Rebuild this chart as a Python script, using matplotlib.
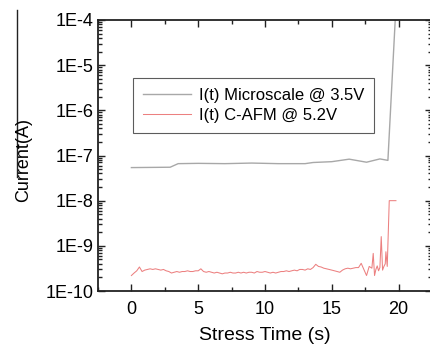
import matplotlib
matplotlib.use("Agg")
import matplotlib.pyplot as plt
from matplotlib.ticker import FixedLocator, LogLocator, NullFormatter
from matplotlib.lines import Line2D

plt.rcParams['font.family'] = ['Liberation Sans', 'DejaVu Sans']

# Gray series: I(t) Microscale @ 3.5V
micro_t = [0.0, 2.9, 3.5, 5.0, 7.0, 9.0, 11.0, 13.0, 13.6, 15.0, 16.3, 17.6, 18.6, 19.2, 19.8]
micro_i = [5.4e-8, 5.5e-8, 6.6e-8, 6.7e-8, 6.6e-8, 6.8e-8, 6.6e-8, 6.6e-8, 7.0e-8, 7.3e-8,
           8.3e-8, 7.1e-8, 8.4e-8, 7.8e-8, 2e-4]

# Red series: I(t) C-AFM @ 5.2V
cafm_t = [0.0, 0.2, 0.4, 0.6, 0.8, 1.0, 1.2, 1.4, 1.6, 1.8, 2.0, 2.2, 2.4, 2.6, 2.8,
          3.0, 3.2, 3.4, 3.6, 3.8, 4.0, 4.2, 4.4, 4.6, 4.8, 5.0, 5.2, 5.4, 5.6, 5.8,
          6.0, 6.2, 6.4, 6.6, 6.8, 7.0, 7.2, 7.4, 7.6, 7.8, 8.0, 8.2, 8.4, 8.6, 8.8,
          9.0, 9.2, 9.4, 9.6, 9.8, 10.0, 10.2, 10.4, 10.6, 10.8, 11.0, 11.2, 11.4, 11.6, 11.8,
          12.0, 12.2, 12.4, 12.6, 12.8, 13.0, 13.2, 13.4, 13.6, 13.8, 14.0, 14.2, 14.4, 14.6, 14.8,
          15.0, 15.2, 15.4, 15.6, 15.8, 16.0, 16.2, 16.4, 16.6, 16.8, 17.0,
          17.2, 17.4, 17.6, 17.8, 18.0, 18.1, 18.2, 18.3, 18.4, 18.5, 18.6, 18.7, 18.8, 18.9,
          19.0, 19.05, 19.15, 19.3, 19.8]
cafm_i_e10 = [2.2, 2.5, 2.8, 3.4, 2.7, 2.9, 3.0, 3.1, 3.0, 3.1, 3.0, 2.9, 3.0, 2.8, 2.7,
              2.5, 2.6, 2.7, 2.6, 2.7, 2.7, 2.8, 2.7, 2.7, 2.8, 2.8, 3.1, 2.7, 2.6, 2.7,
              2.6, 2.5, 2.6, 2.5, 2.4, 2.5, 2.5, 2.6, 2.5, 2.5, 2.6, 2.5, 2.6, 2.5, 2.6,
              2.6, 2.5, 2.7, 2.6, 2.6, 2.7, 2.6, 2.5, 2.6, 2.5, 2.6, 2.7, 2.7, 2.8, 2.7,
              2.8, 2.9, 2.8, 3.0, 3.0, 2.9, 3.1, 3.0, 3.3, 3.9, 3.5, 3.4, 3.2, 3.1, 3.0,
              2.9, 2.8, 2.7, 2.6, 2.9, 3.1, 3.2, 3.1, 3.2, 3.3, 3.3,
              4.1, 3.0, 2.2, 3.5, 3.2, 6.8, 2.2, 3.0, 3.6, 2.8, 3.3, 16.0, 2.9, 3.5,
              4.0, 7.4, 3.5, 100.0, 100.0]

y_ticks = [1e-10, 1e-9, 1e-8, 1e-7, 1e-6, 1e-5, 1e-4]
y_labels = ['1E-10', '1E-9', '1E-8', '1E-7', '1E-6', '1E-5', '1E-4']
x_ticks = [0, 5, 10, 15, 20]

fig = plt.figure(figsize=(4.30, 3.49), dpi=100)
ax = fig.add_axes([98/430, 1 - 291/349, 334/430, 271/349])

ax.plot(micro_t, micro_i, color='#a8a8a8', lw=1.0, label='I(t) Microscale @ 3.5V')
ax.plot(cafm_t, [v * 1e-10 for v in cafm_i_e10], color='#ec8080', lw=0.75,
        label='I(t) C-AFM @ 5.2V')

ax.set_yscale('log')
ax.set_ylim(1e-10, 1e-4)
ax.set_xlim(-2.45, 22.5)
ax.yaxis.set_major_locator(FixedLocator(y_ticks))
ax.set_yticklabels(y_labels)
ax.yaxis.set_minor_locator(LogLocator(base=10, subs=range(2, 10), numticks=20))
ax.yaxis.set_minor_formatter(NullFormatter())
ax.set_xticks(x_ticks)
ax.set_xticks([-2.5, 2.5, 7.5, 12.5, 17.5, 22.5], minor=True)

ax.tick_params(which='both', direction='in', top=True, right=True, labelsize=13,
               color='#222222', width=1.0)
ax.tick_params(which='major', length=5)
ax.tick_params(axis='x', which='major', pad=7)
ax.tick_params(axis='y', which='major', pad=3)
ax.tick_params(which='minor', length=3)
for s in ax.spines.values():
    s.set_linewidth(1.3)
    s.set_color('#222222')

ax.set_xlabel('Stress Time (s)', fontsize=14, labelpad=7)

fig.text(24/430, 1 - 160/349, 'Current(A)', rotation=90, ha='center', va='center',
         fontsize=13)
fig.add_artist(Line2D([17/430, 17/430], [1 - 10/349, 1 - 177/349], color='#222222', lw=1.0))

leg = ax.legend(loc='upper left', bbox_to_anchor=((133 - 98) / 334, 1 - (78 - 20) / 271),
                fontsize=12, frameon=True, fancybox=False, edgecolor='#333333',
                handlelength=2.9, handletextpad=0.45, borderpad=0.6, labelspacing=0.3,
                borderaxespad=0)
leg.get_frame().set_linewidth(0.8)

fig.savefig('out.png', dpi=100)
